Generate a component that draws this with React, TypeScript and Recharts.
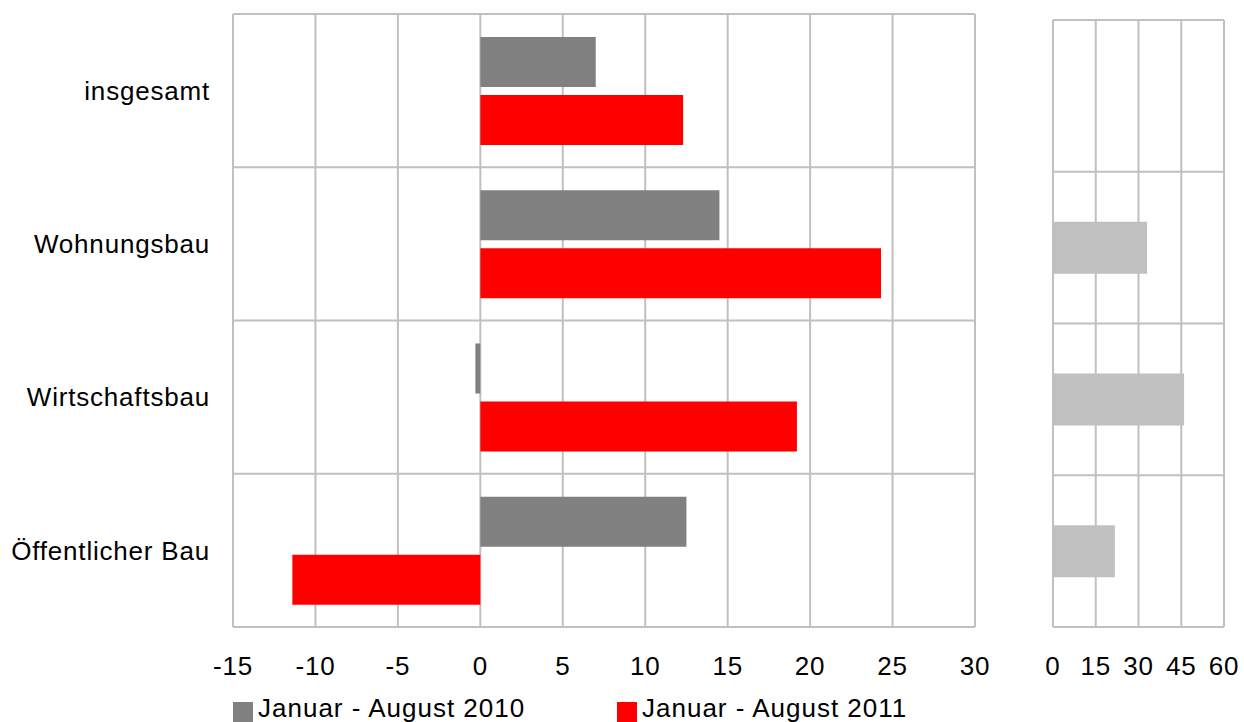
import React from 'react'
import { BarChart, Bar, XAxis, YAxis, CartesianGrid } from 'recharts'

const categories = ['insgesamt', 'Wohnungsbau', 'Wirtschaftsbau', 'Öffentlicher Bau']
const values2010 = [7.0, 14.5, -0.3, 12.5]
const values2011 = [12.3, 24.3, 19.2, -11.4]
const sideValues: (number | null)[] = [null, 33, 46, 21.7]
const mainTicks = [-15, -10, -5, 0, 5, 10, 15, 20, 25, 30]
const sideTicks = [0, 15, 30, 45, 60]
const seriesNames = ['Januar - August 2010', 'Januar - August 2011']
const seriesColors = ['#808080', '#ff0000']

const FONT = '"Liberation Sans", Arial, sans-serif'
const GRID = '#c0c0c0'

const mainData = categories.map((name, i) => ({
  name,
  a: values2010[i],
  b: values2011[i],
}))

const sideData = categories.map((name, i) => ({ name, v: sideValues[i] }))

// horizontal grid lines sit on the category borders, not the centers
const bandLines = ({ offset }: any) => {
  const n = categories.length
  const step = offset.height / n
  return Array.from({ length: n + 1 }, (_, i) => offset.top + i * step)
}

const tickStyle = { fill: '#000', fontSize: 26, fontFamily: FONT, letterSpacing: 0.8 }

export default function App() {
  return (
    <div style={{ position: 'absolute', left: 0, top: 0, width: 1244, height: 722, background: '#fff', fontFamily: FONT, overflow: 'hidden' }}>
      <div style={{ position: 'absolute', left: 0, top: 0 }}>
        <BarChart
          width={1000}
          height={722}
          data={mainData}
          layout="vertical"
          margin={{ top: 14, right: 25, left: 0, bottom: 35 }}
          barCategoryGap="15%"
          barGap={8}
        >
          <CartesianGrid stroke={GRID} strokeWidth={2} horizontalCoordinatesGenerator={bandLines} />
          <XAxis
            type="number"
            domain={[-15, 30]}
            ticks={mainTicks}
            interval={0}
            axisLine={false}
            tickLine={false}
            tickSize={0}
            tickMargin={30}
            height={60}
            tick={tickStyle}
          />
          <YAxis
            type="category"
            dataKey="name"
            width={233}
            axisLine={false}
            tickLine={false}
            tickSize={0}
            tickMargin={23}
            tick={tickStyle}
          />
          <Bar dataKey="a" name={seriesNames[0]} fill={seriesColors[0]} isAnimationActive={false} />
          <Bar dataKey="b" name={seriesNames[1]} fill={seriesColors[1]} isAnimationActive={false} />
        </BarChart>
      </div>
      <div style={{ position: 'absolute', left: 1040, top: 0 }}>
        <BarChart
          width={204}
          height={722}
          data={sideData}
          layout="vertical"
          margin={{ top: 20, right: 20, left: 13, bottom: 35 }}
          barCategoryGap="33%"
        >
          <CartesianGrid stroke={GRID} strokeWidth={2} horizontalCoordinatesGenerator={bandLines} />
          <XAxis
            type="number"
            domain={[0, 60]}
            ticks={sideTicks}
            interval={0}
            axisLine={false}
            tickLine={false}
            tickSize={0}
            tickMargin={30}
            height={60}
            tick={tickStyle}
          />
          <YAxis type="category" dataKey="name" hide width={0} />
          <Bar dataKey="v" fill="#c0c0c0" isAnimationActive={false} />
        </BarChart>
      </div>
      {seriesNames.map((name, i) => {
        const x = i === 0 ? 233 : 617
        return (
          <React.Fragment key={name}>
            <div style={{ position: 'absolute', left: x, top: 702, width: 20, height: 20, background: seriesColors[i] }} />
            <div
              style={{
                position: 'absolute',
                left: x + 25,
                top: 697,
                fontSize: 26,
                lineHeight: '22px',
                letterSpacing: 1,
                color: '#000',
                whiteSpace: 'nowrap',
              }}
            >
              {name}
            </div>
          </React.Fragment>
        )
      })}
    </div>
  )
}
